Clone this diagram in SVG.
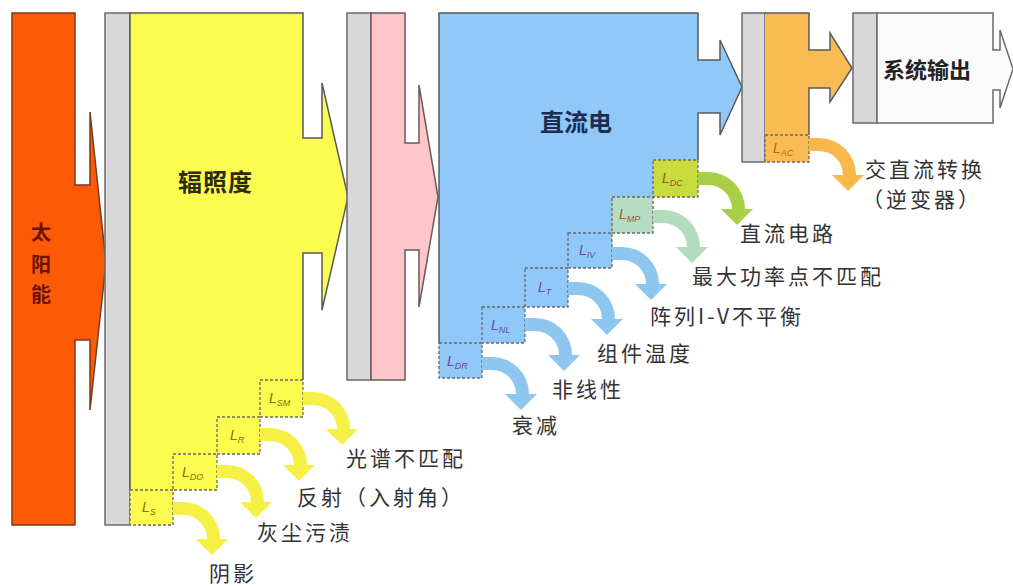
<svg xmlns="http://www.w3.org/2000/svg" xmlns:xlink="http://www.w3.org/1999/xlink" width="1013" height="586" viewBox="0 0 1013 586">
<defs>
<style>
.edge{fill:none;stroke:#5a5a5a;stroke-width:1.5;stroke-linejoin:miter}
.bar{fill:#d8d8d8;stroke:#6a6a6a;stroke-width:1.5}
.box{stroke:#6a6a6a;stroke-width:1.3;stroke-dasharray:3 2}
.lbl{font-family:"Noto Sans CJK SC","Noto Sans",sans-serif;font-size:21px;fill:#333;letter-spacing:3px}
.ttl{font-family:"Noto Sans CJK SC","Noto Sans",sans-serif;font-weight:bold}
.bl{font-family:"Liberation Sans",Arial,sans-serif;font-style:italic;font-size:14px}
.sub{font-size:9px}
.ya{fill:#f6f046}
.ba{fill:#8fc6ef}
</style>
<path id="la" d="M0,0 H10 A37,37 0 0 1 47,37 H55 L39,53 L23,37 H34 A24,24 0 0 0 10,13 H0 Z"/>
</defs>
<rect width="1013" height="586" fill="#ffffff"/>

<g id="solar">
<path d="M12,13 H75 V185 H90 V112 L106,263 L90,410 V340 H75 V525 H12 Z" fill="#fd5a06" stroke="#7a3a1a" stroke-width="1.5"/>
<text class="ttl" font-size="20" fill="#6b1200" text-anchor="middle"><tspan x="41" y="240">太</tspan><tspan x="41" y="272">阳</tspan><tspan x="41" y="302">能</tspan></text>
</g>

<g id="irradiance">
<rect class="bar" x="105" y="13" width="25" height="512"/>
<path d="M130,13 H303 V138 H322 V83 L348,197 L322,310 V253 H303 V380 H260 V417 H217 V455 H173 V490 H130 Z" fill="#fcfc50"/>
<path class="edge" d="M130,490 V13 H303 V138 H322 V83 L348,197 L322,310 V253 H303 V380"/>
<text class="ttl" x="178" y="191" font-size="24" fill="#2b2b14" letter-spacing="1">辐照度</text>
</g>

<g id="loss-SM"><rect class="box" x="260" y="380" width="43" height="37" fill="#fcfc50"/><text class="bl" x="269" y="403" fill="#8a7000">L<tspan class="sub" dy="3">SM</tspan></text></g>
<g id="loss-R"><rect class="box" x="217" y="417" width="43" height="37" fill="#fcfc50"/><text class="bl" x="230" y="440" fill="#8a7000">L<tspan class="sub" dy="3">R</tspan></text></g>
<g id="loss-DO"><rect class="box" x="173" y="454" width="44" height="36" fill="#fcfc50"/><text class="bl" x="182" y="477" fill="#8a7000">L<tspan class="sub" dy="3">DO</tspan></text></g>
<g id="loss-S"><rect class="box" x="130" y="490" width="43" height="35" fill="#fcfc50"/><text class="bl" x="142" y="512" fill="#8a7000">L<tspan class="sub" dy="3">S</tspan></text></g>

<g id="module-surface">
<rect class="bar" x="347" y="13" width="24" height="367"/>
<path d="M371,13 H405 V143 H419 V85 L438,197 L419,307 V250 H405 V380 H371 Z" fill="#ffc6c9" stroke="#6a5a5a" stroke-width="1.5"/>
</g>

<g id="dc">
<path d="M439,13 H698 V60 H720 V40 L742,87 L720,135 V113 H698 V160 H653 V197 H612 V233 H568 V268 H525 V307 H482 V343 H439 Z" fill="#90c8f8"/>
<path class="edge" d="M439,343 V13 H698 V60 H720 V40 L742,87 L720,135 V113 H698 V160"/>
<text class="ttl" x="540" y="131" font-size="24" fill="#1c2e50">直流电</text>
</g>

<g id="loss-DC"><rect class="box" x="653" y="160" width="45" height="37" fill="#c9dc3e"/><text class="bl" x="662" y="183" fill="#a0501a">L<tspan class="sub" dy="3">DC</tspan></text></g>
<g id="loss-MP"><rect class="box" x="612" y="197" width="41" height="36" fill="#b6dcc4"/><text class="bl" x="619" y="219" fill="#a0602a">L<tspan class="sub" dy="3">MP</tspan></text></g>
<g id="loss-IV"><rect class="box" x="568" y="233" width="44" height="35" fill="#90c8f8"/><text class="bl" x="579" y="255" fill="#6a4aa8">L<tspan class="sub" dy="3">IV</tspan></text></g>
<g id="loss-T"><rect class="box" x="525" y="268" width="43" height="39" fill="#90c8f8"/><text class="bl" x="538" y="292" fill="#6a4aa8">L<tspan class="sub" dy="3">T</tspan></text></g>
<g id="loss-NL"><rect class="box" x="482" y="307" width="43" height="36" fill="#90c8f8"/><text class="bl" x="491" y="330" fill="#6a4aa8">L<tspan class="sub" dy="3">NL</tspan></text></g>
<g id="loss-DR"><rect class="box" x="439" y="343" width="43" height="35" fill="#90c8f8"/><text class="bl" x="447" y="366" fill="#6a4aa8">L<tspan class="sub" dy="3">DR</tspan></text></g>

<g id="inverter">
<rect class="bar" x="742" y="13" width="23" height="149"/>
<path d="M765,13 H809 V50 H830 V33 L852,68 L830,102 V88 H809 V135 H765 Z" fill="#f9bc52"/>
<path class="edge" d="M765,13 H809 V50 H830 V33 L852,68 L830,102 V88 H809 V135"/>
</g>
<g id="loss-AC"><rect class="box" x="765" y="135" width="44" height="27" fill="#f9bc52"/><text class="bl" x="773" y="153" fill="#c0601a">L<tspan class="sub" dy="3">AC</tspan></text></g>

<g id="output">
<rect class="bar" x="853" y="13" width="24" height="110"/>
<path d="M877,13 H993 V50 H1000 V30 L1013,69 L1000,108 V90 H993 V123 H877 Z" fill="#fafafa" stroke="#6a6a6a" stroke-width="1.5"/>
<text class="ttl" x="883" y="78" font-size="22" fill="#222">系统输出</text>
</g>

<g id="connectors">
<use href="#la" x="173" y="502" class="ya"/>
<use href="#la" x="217" y="465" class="ya"/>
<use href="#la" x="260" y="428" class="ya"/>
<use href="#la" x="303" y="392" class="ya"/>
<use href="#la" x="482" y="357" class="ba"/>
<use href="#la" x="525" y="318" class="ba"/>
<use href="#la" x="568" y="282" class="ba"/>
<use href="#la" x="612" y="247" class="ba"/>
<use href="#la" x="653" y="210" fill="#b3dcbc"/>
<use href="#la" x="698" y="172" fill="#a8d046"/>
<use href="#la" x="809" y="138" fill="#f8b84a"/>
</g>

<g id="labels">
<text class="lbl" x="209" y="581">阴影</text>
<text class="lbl" x="257" y="540">灰尘污渍</text>
<text class="lbl" x="297" y="505">反射（入射角）</text>
<text class="lbl" x="346" y="466">光谱不匹配</text>
<text class="lbl" x="512" y="433">衰减</text>
<text class="lbl" x="552" y="397">非线性</text>
<text class="lbl" x="597" y="361">组件温度</text>
<text class="lbl" x="650" y="324">阵列I-V不平衡</text>
<text class="lbl" x="692" y="284">最大功率点不匹配</text>
<text class="lbl" x="740" y="241">直流电路</text>
<text class="lbl" x="865" y="177">交直流转换</text>
<text class="lbl" x="862" y="207">（逆变器）</text>
</g>
</svg>
